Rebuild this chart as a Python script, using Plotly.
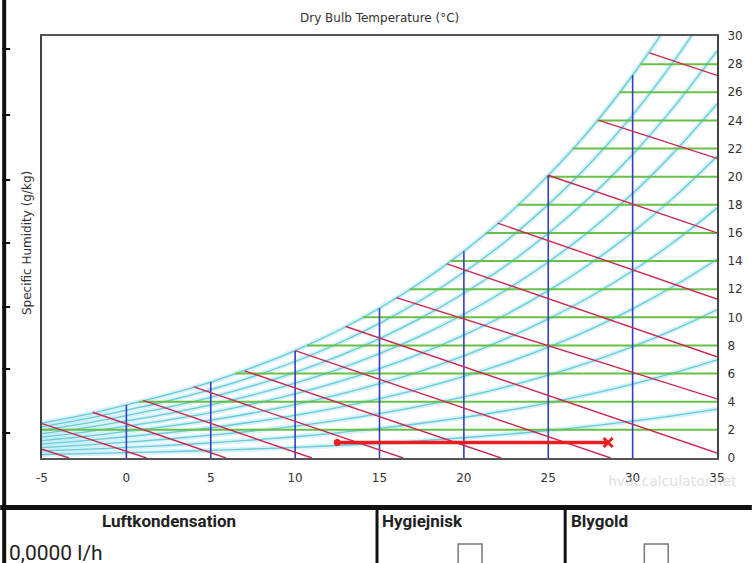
import plotly.graph_objects as go

# ---------------- data ----------------
x_range = [-5, 35]
y_range = [0, 30]
x_ticks = [-5, 0, 5, 10, 15, 20, 25, 30, 35]
x_tick_labels = ["-5", "0", "5", "10", "15", "20", "25", "30", "35"]
y_ticks = [0, 2, 4, 6, 8, 10, 12, 14, 16, 18, 20, 22, 24, 26, 28, 30]

# relative humidity curves, specific humidity (g/kg) at these dry-bulb temps
temps = [-5, -2.5, 0, 2.5, 5, 7.5, 10, 12.5, 15, 17.5, 20, 22.5, 25, 27.5, 30, 32.5, 35]
rh10 = [0.25, 0.31, 0.38, 0.45, 0.54, 0.64, 0.75, 0.89, 1.05, 1.23, 1.44, 1.68, 1.95, 2.26, 2.62, 3.02, 3.47]
rh20 = [0.50, 0.61, 0.75, 0.90, 1.08, 1.28, 1.51, 1.79, 2.10, 2.47, 2.89, 3.36, 3.92, 4.54, 5.26, 6.07, 6.98]
rh30 = [0.74, 0.92, 1.13, 1.35, 1.62, 1.92, 2.27, 2.68, 3.16, 3.71, 4.34, 5.06, 5.89, 6.84, 7.92, 9.15, 10.54]
rh40 = [0.99, 1.23, 1.51, 1.81, 2.15, 2.56, 3.03, 3.58, 4.22, 4.95, 5.80, 6.76, 7.88, 9.15, 10.60, 12.26, 14.13]
rh50 = [1.24, 1.53, 1.89, 2.26, 2.69, 3.20, 3.79, 4.48, 5.28, 6.20, 7.26, 8.48, 9.89, 11.48, 13.31, 15.41, 17.77]
rh60 = [1.49, 1.84, 2.26, 2.71, 3.23, 3.85, 4.56, 5.39, 6.35, 7.46, 8.74, 10.20, 11.90, 13.83, 16.05, 18.58, 21.45]
rh70 = [1.73, 2.14, 2.64, 3.16, 3.77, 4.49, 5.32, 6.29, 7.42, 8.72, 10.22, 11.94, 13.93, 16.19, 18.80, 21.79, 25.17]
rh80 = [1.98, 2.45, 3.02, 3.61, 4.31, 5.14, 6.09, 7.20, 8.49, 9.98, 11.71, 13.68, 15.97, 18.57, 21.58, 25.03, 28.94]
rh90 = [2.23, 2.76, 3.40, 4.07, 4.86, 5.79, 6.86, 8.12, 9.57, 11.25, 13.20, 15.43, 18.02, 20.97, 24.38, 28.30, 32.74]
rh100 = [2.48, 3.06, 3.78, 4.52, 5.40, 6.44, 7.63, 9.03, 10.65, 12.53, 14.70, 17.19, 20.09, 23.39, 27.21, 31.60, 36.59]

# constant specific humidity lines (green): level and the dry-bulb where they leave the saturation curve
sh_levels = [2, 4, 6, 8, 10, 12, 14, 16, 18, 20, 22, 24, 26, 28]
sh_start_t = [-5, 0.75, 6.45, 10.7, 14.0, 16.8, 19.2, 21.3, 23.2, 24.9, 26.45, 27.9, 29.2, 30.45]

# constant dry-bulb lines (blue): temperature and top (saturation) humidity
db_temps = [0, 5, 10, 15, 20, 25, 30]
db_top_w = [3.78, 5.40, 7.63, 10.65, 14.70, 20.09, 27.21]

# wet-bulb lines (red): start point and end point
wb_t0 = [-5, -5, -2, 1, 4, 7, 10, 13, 16, 19, 22, 25, 28, 31]
wb_w0 = [0.62, 2.45, 3.25, 4.1, 5.05, 6.2, 7.63, 9.35, 11.4, 13.8, 16.7, 20.1, 24.0, 28.8]
wb_t1 = [-3.4, 1.2, 5.9, 11.0, 16.4, 22.2, 28.7, 35, 35, 35, 35, 35, 35, 35]
wb_w1 = [0, 0, 0, 0, 0, 0, 0, 0.35, 4.2, 7.2, 11.3, 16.0, 21.3, 27.2]

# process path (red thick)
path_t = [12.5, 28.55]
path_w = [1.1, 1.1]

# ---------------- figure ----------------
W, H = 755, 563
ML, MR, MT, MB = 42, 35, 36, 105
PW, PH = W - ML - MR, H - MT - MB


def px(x):
    return (x - ML) / PW


def py(y):
    return (H - MB - y) / PH


fig = go.Figure()
rh_curves = [rh10, rh20, rh30, rh40, rh50, rh60, rh70, rh80, rh90, rh100]

for w in rh_curves:
    fig.add_trace(go.Scatter(x=temps, y=w, mode="lines",
                             line=dict(color="rgba(165,228,238,0.45)", width=5, shape="spline"),
                             hoverinfo="skip", showlegend=False))
for w in rh_curves:
    fig.add_trace(go.Scatter(x=temps, y=w, mode="lines",
                             line=dict(color="rgb(105,202,217)", width=1.3, shape="spline"),
                             hoverinfo="skip", showlegend=False))

for lvl, t0 in zip(sh_levels, sh_start_t):
    fig.add_trace(go.Scatter(x=[t0, x_range[1]], y=[lvl, lvl], mode="lines",
                             line=dict(color="rgb(104,192,72)", width=2),
                             hoverinfo="skip", showlegend=False))

for t, wt in zip(db_temps, db_top_w):
    fig.add_trace(go.Scatter(x=[t, t], y=[y_range[0], wt], mode="lines",
                             line=dict(color="rgb(52,62,190)", width=1.6),
                             hoverinfo="skip", showlegend=False))

for a, b, c, d in zip(wb_t0, wb_w0, wb_t1, wb_w1):
    fig.add_trace(go.Scatter(x=[a, c], y=[b, d], mode="lines",
                             line=dict(color="rgb(205,40,80)", width=1.4),
                             hoverinfo="skip", showlegend=False))

fig.add_trace(go.Scatter(x=path_t, y=path_w, mode="lines",
                         line=dict(color="rgb(236,28,32)", width=3.5),
                         hoverinfo="skip", showlegend=False))
fig.add_trace(go.Scatter(x=path_t[:1], y=path_w[:1], mode="markers",
                         marker=dict(color="rgb(236,28,32)", size=7, symbol="circle"),
                         hoverinfo="skip", showlegend=False))
fig.add_trace(go.Scatter(x=path_t[1:], y=path_w[1:], mode="markers",
                         marker=dict(color="rgb(236,28,32)", size=9, symbol="x-thin",
                                     line=dict(color="rgb(236,28,32)", width=3)),
                         hoverinfo="skip", showlegend=False))

axis_font = dict(family="DejaVu Sans", size=12, color="#333333")
fig.update_xaxes(range=x_range, tickvals=x_ticks, ticktext=x_tick_labels, showgrid=False, zeroline=False,
                 showline=True, linecolor="#555555", linewidth=2, mirror=True,
                 ticks="", ticklabelstandoff=8, tickfont=axis_font)
fig.update_yaxes(range=y_range, tickvals=y_ticks, side="right", showgrid=False, zeroline=False,
                 showline=True, linecolor="#444444", linewidth=2, mirror=True,
                 ticks="", ticklabelstandoff=6, tickfont=axis_font)

shapes = []
black = "#111111"
# left page bar
shapes.append(dict(type="rect", xref="paper", yref="paper", x0=px(2), x1=px(6), y0=py(0), y1=py(H),
                   fillcolor=black, line=dict(width=0)))
for yy in [49, 115, 180, 243, 307, 369, 433]:
    shapes.append(dict(type="rect", xref="paper", yref="paper", x0=px(2), x1=px(10), y0=py(yy - 1), y1=py(yy + 1),
                       fillcolor=black, line=dict(width=0)))
# horizontal separator
shapes.append(dict(type="rect", xref="paper", yref="paper", x0=px(0), x1=px(W), y0=py(505), y1=py(510),
                   fillcolor=black, line=dict(width=0)))
# table column lines
for xx in [377, 566]:
    shapes.append(dict(type="rect", xref="paper", yref="paper", x0=px(xx), x1=px(xx + 3), y0=py(510), y1=py(H),
                       fillcolor=black, line=dict(width=0)))
# checkboxes
for xx in [460, 647]:
    shapes.append(dict(type="rect", xref="paper", yref="paper", x0=px(xx), x1=px(xx + 24), y0=py(544), y1=py(568),
                       fillcolor="white", line=dict(color="#777777", width=1.5)))

annotations = [
    dict(text="Dry Bulb Temperature (°C)", x=px(381), y=py(18), xref="paper", yref="paper",
         showarrow=False, font=dict(family="DejaVu Sans", size=12, color="#333333"),
         xanchor="center", yanchor="middle"),
    dict(text="Specific Humidity (g/kg)", x=px(27), y=py(243), xref="paper", yref="paper",
         showarrow=False, textangle=-90, font=dict(family="DejaVu Sans", size=12, color="#333333"),
         xanchor="center", yanchor="middle"),
    dict(text="hvaccalculator.net", x=px(675), y=py(481), xref="paper", yref="paper",
         showarrow=False, font=dict(family="DejaVu Sans", size=14, color="rgba(195,195,195,0.55)"),
         xanchor="center", yanchor="middle"),
    dict(text="<b>Luftkondensation</b>", x=px(170), y=py(521), xref="paper", yref="paper",
         showarrow=False, font=dict(family="Roboto", size=17, color="#222222"),
         xanchor="center", yanchor="middle"),
    dict(text="<b>Hygiejnisk</b>", x=px(382), y=py(521), xref="paper", yref="paper",
         showarrow=False, font=dict(family="Roboto", size=17, color="#222222"),
         xanchor="left", yanchor="middle"),
    dict(text="<b>Blygold</b>", x=px(571), y=py(521), xref="paper", yref="paper",
         showarrow=False, font=dict(family="Roboto", size=17, color="#222222"),
         xanchor="left", yanchor="middle"),
    dict(text="0,0000 l/h", x=px(7), y=py(553), xref="paper", yref="paper",
         showarrow=False, font=dict(family="Roboto", size=21, color="#222222"),
         xanchor="left", yanchor="middle"),
]

fig.update_layout(width=W, height=H, margin=dict(l=ML, r=MR, t=MT, b=MB),
                  paper_bgcolor="white", plot_bgcolor="white",
                  shapes=shapes, annotations=annotations, showlegend=False)

fig.write_html("out.html", config={"displayModeBar": False},
               post_script="document.body.style.margin='0';document.body.style.padding='0';")
